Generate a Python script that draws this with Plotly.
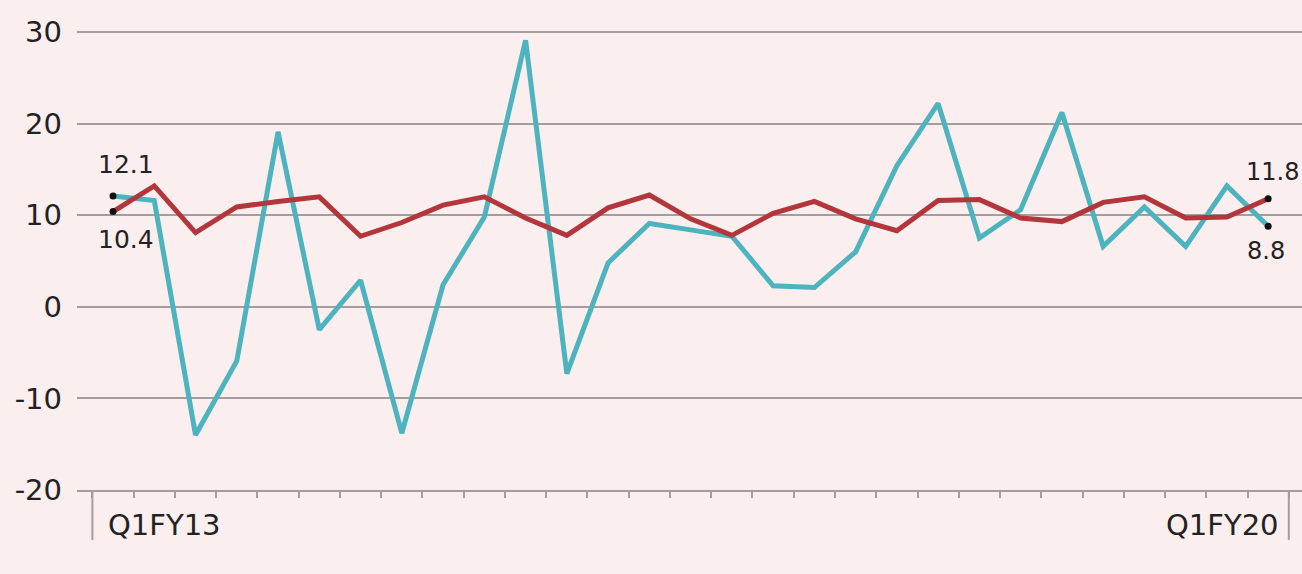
import plotly.graph_objects as go

quarters = list(range(29))  # Q1FY13 .. Q1FY20
teal_vals = [12.1, 11.6, -14.0, -5.9, 19.1, -2.5, 2.9, -13.8, 2.4, 9.8,
             29.1, -7.3, 4.8, 9.1, 8.4, 7.7, 2.3, 2.1, 6.0, 15.4,
             22.2, 7.5, 10.6, 21.2, 6.6, 10.9, 6.6, 13.2, 8.8]
red_vals = [10.4, 13.2, 8.1, 10.9, 11.5, 12.0, 7.7, 9.2, 11.1, 12.0,
            9.7, 7.8, 10.8, 12.2, 9.6, 7.8, 10.2, 11.5, 9.6, 8.3,
            11.6, 11.7, 9.7, 9.3, 11.4, 12.0, 9.7, 9.8, 11.8]
y_ticks = [-20, -10, 0, 10, 20, 30]
x_labels = ["Q1FY13", "Q1FY20"]

BG = "#fbeeee"
TEAL = "#4db3be"
RED = "#b2363b"
GRID = "#a39d9d"
TXT = "#222222"
FONT = "DejaVu Sans"

fig = go.Figure()
fig.add_trace(go.Scatter(x=quarters, y=teal_vals, mode="lines",
                         line=dict(color=TEAL, width=5), hoverinfo="skip"))
fig.add_trace(go.Scatter(x=quarters, y=red_vals, mode="lines",
                         line=dict(color=RED, width=5), hoverinfo="skip"))
# end dots
fig.add_trace(go.Scatter(x=[quarters[0], quarters[0], quarters[-1], quarters[-1]],
                         y=[teal_vals[0], red_vals[0], red_vals[-1], teal_vals[-1]],
                         mode="markers", marker=dict(color="#111111", size=7),
                         hoverinfo="skip"))

ann = []
ann.append(dict(x=quarters[0], y=teal_vals[0], text=f"{teal_vals[0]:.1f}", showarrow=False,
                xanchor="center", yanchor="middle", xshift=13, yshift=31,
                font=dict(size=25, color=TXT, family=FONT)))
ann.append(dict(x=quarters[0], y=red_vals[0], text=f"{red_vals[0]:.1f}", showarrow=False,
                xanchor="center", yanchor="middle", xshift=13, yshift=-28,
                font=dict(size=25, color=TXT, family=FONT)))
ann.append(dict(x=quarters[-1], y=red_vals[-1], text=f"{red_vals[-1]:.1f}", showarrow=False,
                xanchor="right", yanchor="middle", xshift=33, yshift=27,
                font=dict(size=24, color=TXT, family=FONT)))
ann.append(dict(x=quarters[-1], y=teal_vals[-1], text=f"{teal_vals[-1]:.1f}", showarrow=False,
                xanchor="left", yanchor="middle", xshift=-23, yshift=-25,
                font=dict(size=24, color=TXT, family=FONT)))
# x category labels
ann.append(dict(x=quarters[0] - 0.5, y=0, yref="paper", text=x_labels[0], showarrow=False,
                xanchor="left", yanchor="middle", xshift=14, yshift=-35,
                font=dict(size=29, color=TXT, family=FONT)))
ann.append(dict(x=quarters[-1] + 0.5, y=0, yref="paper", text=x_labels[1], showarrow=False,
                xanchor="right", yanchor="middle", xshift=-8, yshift=-35,
                font=dict(size=29, color=TXT, family=FONT)))

shapes = []
for xv in (quarters[0] - 0.5, quarters[-1] + 0.5):
    shapes.append(dict(type="line", xref="x", yref="paper", x0=xv, x1=xv,
                       y0=0, y1=-0.104, line=dict(color=GRID, width=2)))

fig.update_layout(
    width=1302, height=574,
    margin=dict(l=77, r=0, t=10, b=84),
    paper_bgcolor=BG, plot_bgcolor=BG,
    showlegend=False,
    annotations=ann, shapes=shapes,
    xaxis=dict(range=[-0.873, 28.82], showgrid=False, zeroline=False,
               tickmode="array", tickvals=[q - 0.5 for q in quarters] + [quarters[-1] + 0.5],
               showticklabels=False, ticks="outside", ticklen=6, tickwidth=1.5,
               tickcolor=GRID, showline=True, linecolor=GRID, linewidth=2),
    yaxis=dict(range=[-20, 32.4], tickmode="array", tickvals=y_ticks,
               ticktext=[str(v) for v in y_ticks],
               showgrid=True, gridcolor=GRID, gridwidth=2,
               zeroline=False, showline=False, ticks="",
               ticklabelstandoff=14,
               tickfont=dict(size=29, color=TXT, family=FONT)),
)

fig.write_html("out.html")
